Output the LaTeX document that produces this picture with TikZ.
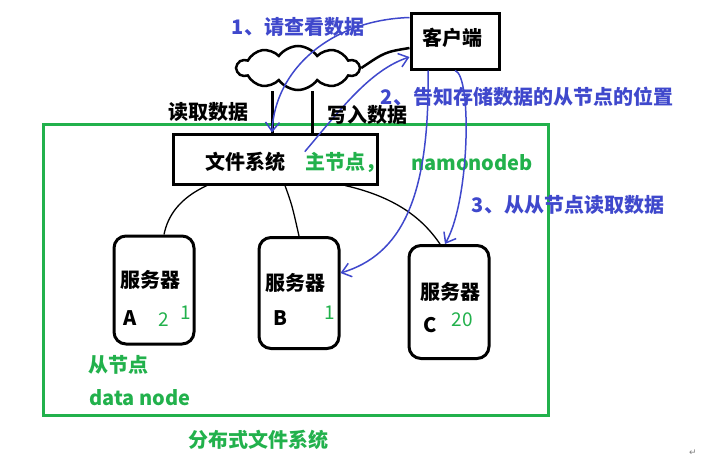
\documentclass[tikz,border=0pt]{standalone}
\usepackage{fontspec}
\setmainfont{Noto Sans CJK SC}
\newfontfamily\symfont{DejaVu Sans}
\usepackage{tikz}
\usetikzlibrary{arrows.meta,shapes.symbols}
\definecolor{paintgreen}{RGB}{34,177,76}
\definecolor{paintblue}{RGB}{63,72,204}

\begin{document}
\begin{tikzpicture}[x=1pt, y=-1pt,
	box/.style = {draw, line width=3pt, inner sep=0pt},
	server/.style = {draw, line width=3pt, rounded corners=12pt, minimum width=80pt},
	lbl/.style = {font=\fontsize{20}{22}\selectfont\bfseries, inner sep=0pt},
	scrib/.style = {font=\fontsize{19}{20}\selectfont, text=paintgreen, inner sep=0pt},
	wire/.style = {line width=1.3pt},
	flow/.style = {paintblue, line width=1.5pt, -{Straight Barb[length=9pt,width=14pt]}}]
	\useasboundingbox (0,0) rectangle (701,464);
	% boxes
	\node [box, minimum width=88pt, minimum height=56pt] (client) at (455,41) {};
	\node [lbl] (clienttxt) at (452,38) {客户端};
	\node [cloud, draw, line width=2.5pt, cloud puffs=10, cloud puff arc=110, aspect=2.8,
		minimum width=122pt, minimum height=44pt] (cloud) at (298,68) {};
	\draw [paintgreen, line width=3pt] (43,124) rectangle (548,415);
	\node [box, minimum width=204pt, minimum height=50pt] (fs) at (275,159) {};
	\node [lbl] (fstxt) at (245,162) {文件系统};
	\node [lbl, text=paintgreen] (master) at (345,162) {主节点，};
	\node [lbl, text=paintgreen] (namenode) at (472,163) {namonodeb};
	\node [server, minimum height=108pt] (srvA) at (154,290) {};
	\node [server, minimum height=111pt] (srvB) at (299,293) {};
	\node [server, minimum height=113pt] (srvC) at (449,302) {};
	\node [lbl] (txtA) at (150,280) {服务器};
	\node [lbl] (nameA) at (130,318) {A};
	\node [lbl] (txtB) at (295,283) {服务器};
	\node [lbl] (nameB) at (280,318) {B};
	\node [lbl] (txtC) at (450,292) {服务器};
	\node [lbl] (nameC) at (430,325) {C};
	\node [scrib] (scribA) at (164,320) {2};
	\node [scrib] (scribAA) at (186,313) {1};
	\node [scrib] (scribB) at (330,313) {1};
	\node [scrib] (scribC) at (462,320) {20};
	% cloud legs and client line
	\draw [line width=3pt] ([xshift=-26pt]cloud.south) -- ([xshift=-26pt]cloud.south |- fs.north);
	\draw [line width=3pt] ([xshift=14pt]cloud.south) -- ([xshift=14pt]cloud.south |- fs.north);
	\draw [line width=2.5pt] (cloud.east) .. controls (385,52) .. ([yshift=-7pt]client.west);
	% fs to servers
	\draw [wire] ([xshift=-68pt]fs.south) .. controls (180,198) and (168,215) .. ([xshift=10pt]srvA.north);
	\draw [wire] ([xshift=10pt]fs.south) .. controls (292,205) .. (srvB.north);
	\draw [wire] ([xshift=70pt]fs.south) .. controls (400,198) and (425,222) .. ([xshift=-9pt]srvC.north);
	% requests
	\draw [flow] ([yshift=-6pt]client.north west) .. controls (330,20) and (275,70) .. ([xshift=-3pt]fs.north);
	\draw [flow] (master.north west) .. controls (340,110) and (370,70) .. ([yshift=-16pt]client.west);
	\draw [flow] ([xshift=-27pt]client.south) .. controls (430,200) and (400,255) .. ([yshift=20pt]srvB.east);
	\draw [flow] (client.south) .. controls (472,75) and (470,200) .. ([xshift=-4pt]srvC.north);
	% labels
	\node [lbl] (readlbl) at (208,112) {读取数据};
	\node [lbl] (writelbl) at (367,115) {写入数据};
	\node [lbl, text=paintblue] (step1) at (298,27) {1、请查看数据};
	\node [lbl, text=paintblue] (step2) at (527,97) {2、告知存储数据的从节点的位置};
	\node [lbl, text=paintblue] (step3) at (568,205) {3、从从节点读取数据};
	\node [lbl, text=paintgreen] (slave) at (118,365) {从节点};
	\node [lbl, text=paintgreen] (datanode) at (140,398) {data node};
	\node [lbl, text=paintgreen] (dfs) at (258,440) {分布式文件系统};
	\node [font=\symfont\fontsize{9}{9}\selectfont, text=gray] (mark) at (693,453) {↵};
\end{tikzpicture}
\end{document}
